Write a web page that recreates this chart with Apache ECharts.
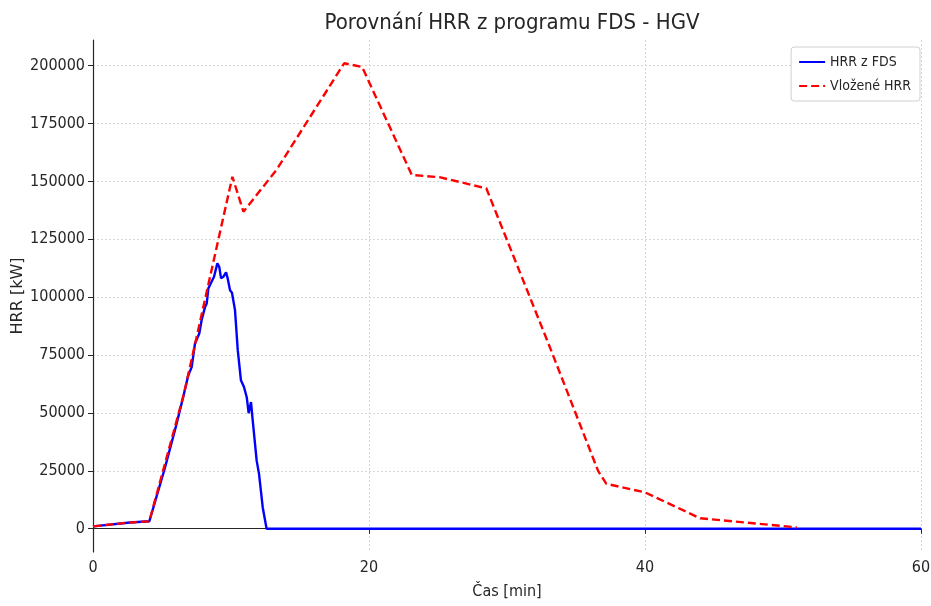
<!DOCTYPE html>
<html>
<head>
<meta charset="utf-8">
<script src="https://cdn.jsdelivr.net/npm/echarts@6/dist/echarts.min.js"></script>
<style>
html,body{margin:0;padding:0;background:#fff;}
#c{width:931px;height:606px;}
</style>
</head>
<body>
<div id="c"></div>
<script>
// ---- data ----
var titleText = 'Porovnání HRR z programu FDS - HGV';
var xName = 'Čas [min]';
var yName = 'HRR [kW]';
var seriesNames = ['HRR z FDS', 'Vložené HRR'];
var yTicks = [0, 25000, 50000, 75000, 100000, 125000, 150000, 175000, 200000];
var xTicks = [0, 20, 40, 60];

var fdsTime = [0, 2.7, 4.08, 5.2, 6.0, 6.54, 6.9, 7.15, 7.39, 7.7, 7.87, 8.12, 8.24, 8.36, 8.53, 8.67, 8.77, 9.01, 9.15, 9.28, 9.44, 9.64, 9.76, 9.93, 10.07, 10.29, 10.49, 10.53, 10.72, 10.94, 11.14, 11.28, 11.45, 11.55, 11.86, 12.03, 12.3, 12.58, 60];
var fdsHrr  = [1000, 2700, 3200, 26000, 44000, 57000, 66200, 69800, 80000, 84300, 90000, 95800, 97300, 103800, 105900, 106600, 108800, 114600, 113100, 108100, 108800, 110700, 108100, 103000, 101900, 94400, 77100, 74900, 64100, 61200, 56800, 49900, 54700, 48200, 29400, 23700, 9200, 0, 0];

var inTime = [0, 2.7, 4.08, 6.6, 10.1, 10.9, 13.3, 18.2, 19.5, 23.1, 25.1, 28.5, 33, 36.6, 37.2, 40, 44, 51];
var inHrr  = [1000, 2700, 3200, 58500, 152000, 136900, 155000, 201000, 199400, 152800, 151800, 147000, 80000, 25000, 19400, 15700, 4500, 600];

function pairs(xs, ys){ return xs.map(function(x,i){ return [x, ys[i]]; }); }

var FONT = "'DejaVu Sans Condensed','DejaVu Sans',sans-serif";
var chart = echarts.init(document.getElementById('c'), null, {renderer:'canvas'});
chart.setOption({
  animation: false,
  backgroundColor: '#fff',
  title: {
    text: titleText, left: 507, top: 7, textAlign: 'center',
    textStyle: {fontFamily: FONT, fontSize: 22, fontWeight: 'normal', color: '#262626'}
  },
  legend: {
    orient: 'vertical', right: 11, top: 47,
    data: seriesNames,
    itemWidth: 26, itemHeight: 14, itemGap: 10,
    padding: [8, 9, 8, 7],
    itemStyle: {opacity: 0},
    backgroundColor: '#fff', borderColor: '#d0d0d0', borderWidth: 1, borderRadius: 3,
    textStyle: {fontFamily: FONT, fontSize: 14, color: '#262626'}
  },
  grid: {left: 93, right: 10, top: 40, bottom: 54, containLabel: false, outerBoundsMode: 'none'},
  xAxis: {
    type: 'value', min: 0, max: 60, interval: 20,
    name: xName, nameLocation: 'middle', nameGap: 32,
    nameTextStyle: {fontFamily: FONT, fontSize: 16, color: '#262626'},
    axisLine: {show: true, lineStyle: {color: '#262626', width: 1.2}},
    axisTick: {show: true, length: 5, lineStyle: {color: '#262626'}},
    axisLabel: {fontFamily: FONT, fontSize: 16, color: '#262626', margin: 8},
    splitLine: {show: true, lineStyle: {color: '#cccccc', type: [2, 2], width: 0.8}}
  },
  yAxis: {
    type: 'value', min: -10050, max: 211050,
    name: yName, nameLocation: 'middle', nameGap: 67, nameMoveOverlap: false,
    nameTextStyle: {fontFamily: 'DejaVu Sans', fontSize: 16, color: '#262626'},
    axisLine: {show: true, onZero: false, lineStyle: {color: '#262626', width: 1.2}},
    axisTick: {show: true, length: 5, customValues: yTicks, lineStyle: {color: '#262626'}},
    axisLabel: {fontFamily: FONT, fontSize: 16, color: '#262626', margin: 8, customValues: yTicks,
      formatter: function(v){ return String(v); }},
    splitLine: {show: true, lineStyle: {color: '#cccccc', type: [2, 2], width: 0.8}}
  },
  series: [
    {
      name: seriesNames[0], type: 'line', data: pairs(fdsTime, fdsHrr),
      showSymbol: false, symbol: 'none',
      lineStyle: {color: '#0000ff', width: 2.4}, itemStyle: {color: '#0000ff'}, z: 2
    },
    {
      name: seriesNames[1], type: 'line', data: pairs(inTime, inHrr),
      showSymbol: false, symbol: 'none',
      lineStyle: {color: '#ff0000', width: 2.4, type: [8, 4]}, itemStyle: {color: '#ff0000'}, z: 3
    }
  ]
});
</script>
</body>
</html>
